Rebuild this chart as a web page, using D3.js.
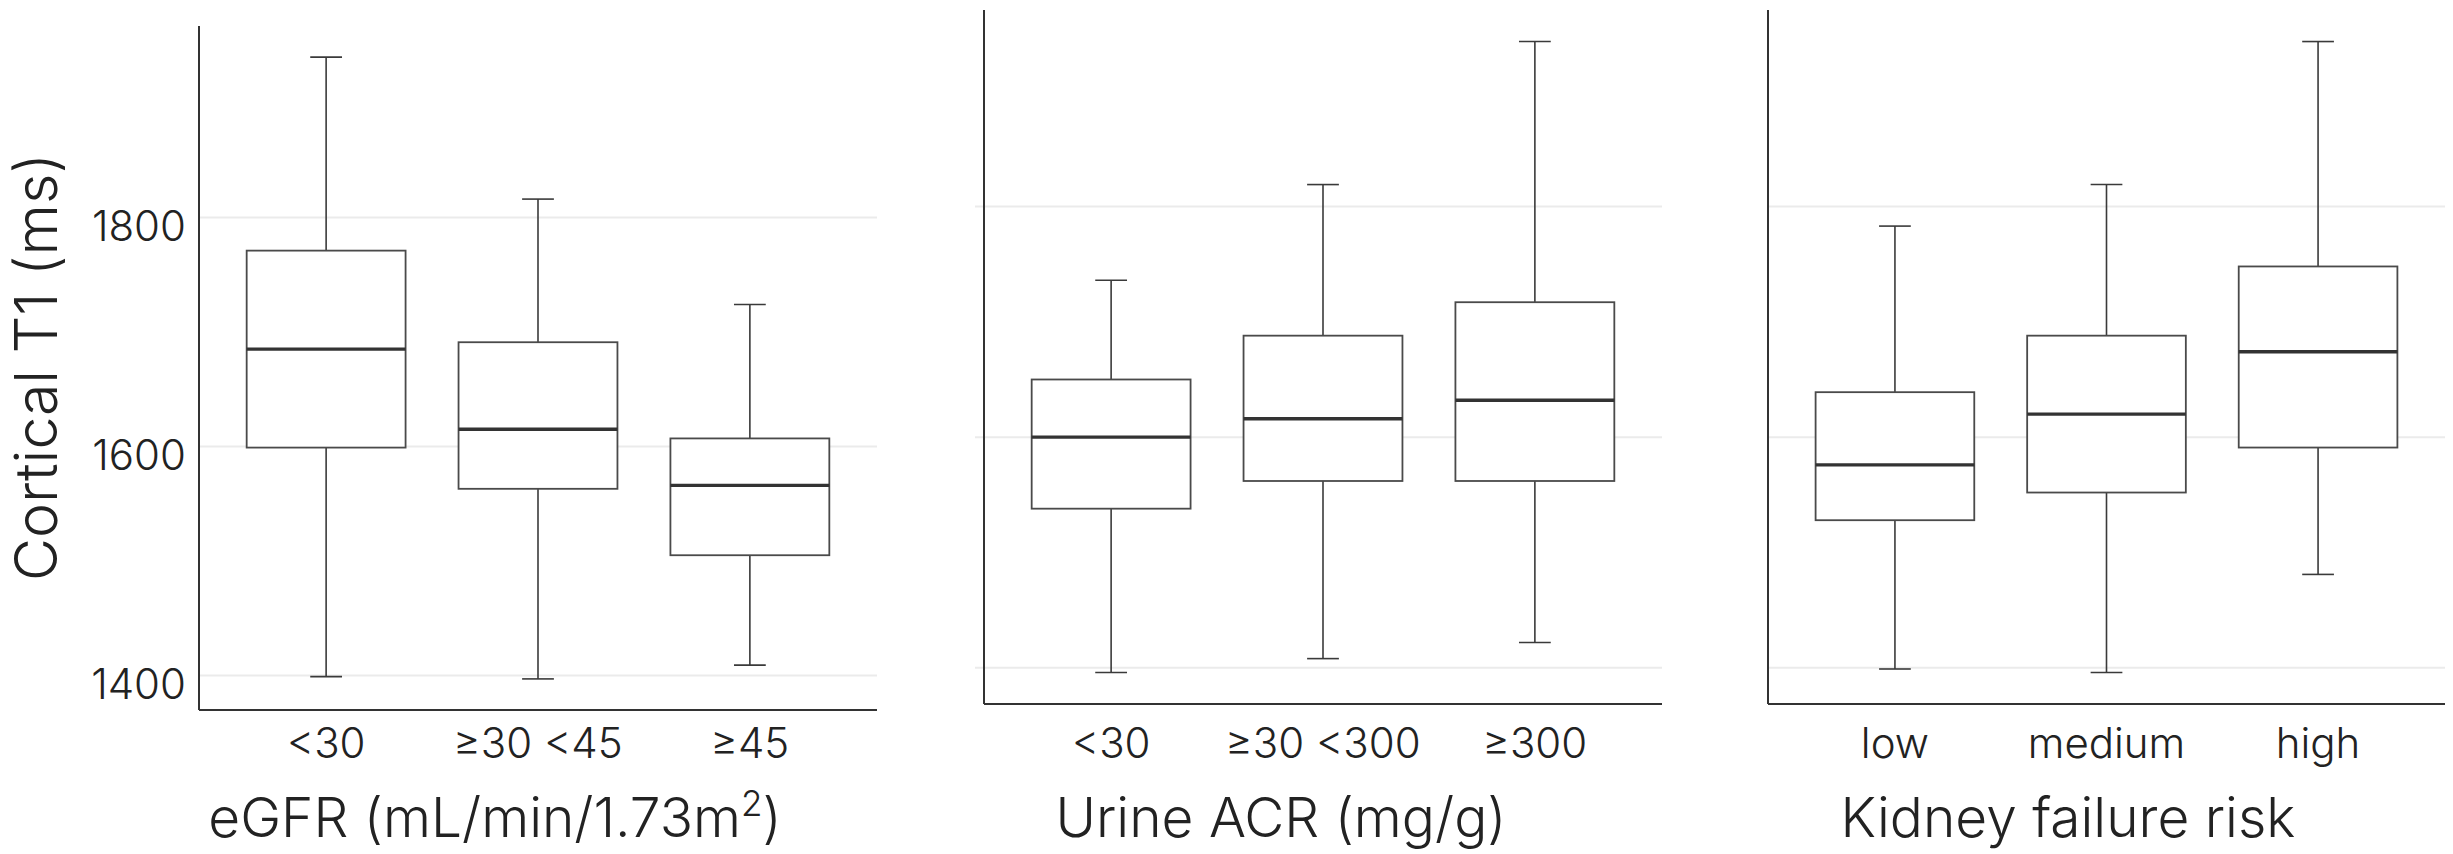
<!DOCTYPE html>
<html>
<head>
<meta charset="utf-8">
<script src="https://cdn.jsdelivr.net/npm/d3@7"></script>
<style>
  body { margin: 0; background: #fff; }
  svg text { font-family: Inter, Lato, sans-serif; font-weight: 300; fill: #222; }
</style>
</head>
<body>
<div id="chart"></div>
<script>
// categories per panel
const egfrGroups = ["<30", "≥30 <45", "≥45"];
const acrGroups = ["<30", "≥30 <300", "≥300"];
const riskGroups = ["low", "medium", "high"];

// box stats: [min, q1, median, q3, max]
const egfrStats = [
  [1399, 1599, 1685, 1771, 1940],
  [1397, 1563, 1615, 1691, 1816],
  [1409, 1505, 1566, 1607, 1724]
];
const acrStats = [
  [1396, 1538, 1600, 1650, 1736],
  [1408, 1562, 1616, 1688, 1819],
  [1422, 1562, 1632, 1717, 1943]
];
const riskStats = [
  [1399, 1528, 1576, 1639, 1783],
  [1396, 1552, 1620, 1688, 1819],
  [1481, 1591, 1674, 1748, 1943]
];

const yTicks = [1400, 1600, 1800];

const width = 2453, height = 854;

const svg = d3.select("#chart")
  .append("svg")
    .attr("width", width)
    .attr("height", height);

const panels = [
  {groups: egfrGroups, stats: egfrStats, left: 199, right: 877, top: 26, bottom: 710,
   title: "eGFR (mL/min/1.73m", sup: "2", titleEnd: ")", titleX: 495, labels: true},
  {groups: acrGroups, stats: acrStats, left: 984, right: 1662, top: 10, bottom: 704,
   title: "Urine ACR (mg/g)", titleX: 1281, labels: false, ticks: true},
  {groups: riskGroups, stats: riskStats, left: 1768, right: 2445, top: 10, bottom: 704,
   title: "Kidney failure risk", titleX: 2068, labels: false}
];

panels.forEach(p => {
  const data = p.groups.map((g, i) => ({
    group: g, min: p.stats[i][0], q1: p.stats[i][1], med: p.stats[i][2], q3: p.stats[i][3], max: p.stats[i][4]
  }));

  // ggplot-like 5% expansion
  const lo = d3.min(data, d => d.min), hi = d3.max(data, d => d.max);
  const pad = (hi - lo) * 0.05;

  const x = d3.scalePoint()
    .domain(p.groups)
    .range([p.left, p.right])
    .padding(0.6);

  const y = d3.scaleLinear()
    .domain([lo - pad, hi + pad])
    .range([p.bottom, p.top]);

  const step = x.step();
  const boxW = step * 0.75, capW = step * 0.15;

  const g = svg.append("g");

  // gridlines
  g.selectAll(".grid")
    .data(yTicks)
    .join("line")
      .attr("x1", p.left - (p.ticks ? 9 : 0))
      .attr("x2", p.right)
      .attr("y1", d => y(d))
      .attr("y2", d => y(d))
      .attr("stroke", "#ebebeb")
      .attr("stroke-width", 2);

  // whiskers
  g.selectAll(".whisker")
    .data(data)
    .join("line")
      .attr("x1", d => x(d.group))
      .attr("x2", d => x(d.group))
      .attr("y1", d => y(d.min))
      .attr("y2", d => y(d.max))
      .attr("stroke", "#3a3a3a")
      .attr("stroke-width", 1.6);

  // caps
  ["min", "max"].forEach(k => {
    g.selectAll(".cap-" + k)
      .data(data)
      .join("line")
        .attr("x1", d => x(d.group) - capW / 2)
        .attr("x2", d => x(d.group) + capW / 2)
        .attr("y1", d => y(d[k]))
        .attr("y2", d => y(d[k]))
        .attr("stroke", "#3a3a3a")
        .attr("stroke-width", 1.6);
  });

  // boxes
  g.selectAll(".box")
    .data(data)
    .join("rect")
      .attr("x", d => x(d.group) - boxW / 2)
      .attr("width", boxW)
      .attr("y", d => y(d.q3))
      .attr("height", d => y(d.q1) - y(d.q3))
      .attr("fill", "#fff")
      .attr("stroke", "#4a4a4a")
      .attr("stroke-width", 1.8);

  // medians
  g.selectAll(".median")
    .data(data)
    .join("line")
      .attr("x1", d => x(d.group) - boxW / 2)
      .attr("x2", d => x(d.group) + boxW / 2)
      .attr("y1", d => y(d.med))
      .attr("y2", d => y(d.med))
      .attr("stroke", "#333")
      .attr("stroke-width", 3.4);

  // axis lines
  g.append("line")
    .attr("x1", p.left).attr("x2", p.left)
    .attr("y1", p.top).attr("y2", p.bottom)
    .attr("stroke", "#333").attr("stroke-width", 2);
  g.append("line")
    .attr("x1", p.left).attr("x2", p.right)
    .attr("y1", p.bottom).attr("y2", p.bottom)
    .attr("stroke", "#333").attr("stroke-width", 2);

  // category labels
  g.selectAll(".cat")
    .data(p.groups)
    .join("text")
      .attr("x", d => x(d))
      .attr("y", 758)
      .attr("text-anchor", "middle")
      .attr("font-size", 42)
      .text(d => d);

  // y tick labels (first panel only)
  if (p.labels) {
    g.selectAll(".ylab")
      .data(yTicks)
      .join("text")
        .attr("x", 186)
        .attr("y", d => y(d) + 24)
        .attr("text-anchor", "end")
        .attr("font-size", 42)
        .text(d => d);
  }

  // x title
  const t = g.append("text")
    .attr("x", p.titleX)
    .attr("y", 837)
    .attr("text-anchor", "middle")
    .attr("font-size", 55)
    .text(p.title);
  if (p.sup) {
    t.append("tspan").attr("dy", -21).attr("font-size", 35).text(p.sup);
    t.append("tspan").attr("dy", 21).text(p.titleEnd);
  }
});

// y title
svg.append("text")
  .attr("transform", "translate(57,367) rotate(-90)")
  .attr("text-anchor", "middle")
  .attr("font-size", 59)
  .text("Cortical T1 (ms)");
</script>
</body>
</html>
